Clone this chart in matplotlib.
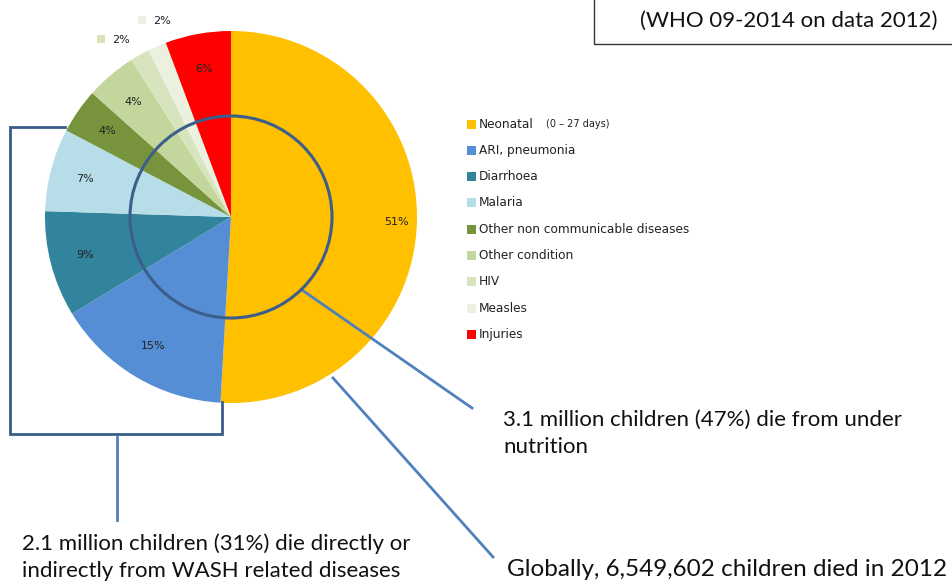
#!/usr/bin/env python3
"""Causes of under-5 child deaths (WHO 09-2014, data 2012) - donut-style pie."""
import numpy as np
import matplotlib.pyplot as plt
from matplotlib.patches import Circle, Rectangle

causes = ["Neonatal", "ARI, pneumonia", "Diarrhoea", "Malaria",
          "Other non communicable diseases", "Other condition", "HIV",
          "Measles", "Injuries"]
shares = [50.9, 15.4, 9.2, 7.2, 3.9, 4.4, 1.7, 1.6, 5.7]
colors = ["#FFC000", "#558ED5", "#31849B", "#B7DEE8", "#77933C",
          "#C3D69B", "#D7E4BD", "#EBF1DE", "#FF0000"]

TXT = "Lato"
fig = plt.figure(figsize=(9.53, 5.81), dpi=100)
ax = fig.add_axes([0, 0, 1, 1])

cx, cy, R = 231, 364, 186
small = 3.0

def pct(p):
    return f"{p:.0f}%" if p >= small else ""

wedges, _, autot = ax.pie(shares, colors=colors, startangle=90, counterclock=False,
                          center=(cx, cy), radius=R, autopct=pct, pctdistance=0.81,
                          wedgeprops=dict(linewidth=0), textprops=dict(fontsize=8, color="#222"))
# pie() resets the view, so set the pixel-like frame afterwards
ax.set_xlim(0, 953); ax.set_ylim(0, 581)
ax.set_aspect("equal"); ax.axis("off")

# the big neonatal label sits nearer the rim
w0 = wedges[0]
a0 = np.deg2rad((w0.theta1 + w0.theta2) / 2)
autot[0].set_position((cx + 0.89 * R * np.cos(a0), cy + 0.89 * R * np.sin(a0)))

# small slices: label outside with a little colour key, nudged apart
nudge = iter([2.5, -4.0])
for w, v, c in zip(wedges, shares, colors):
    if v >= small:
        continue
    a = np.deg2rad((w.theta1 + w.theta2) / 2 + next(nudge))
    r = R * 1.12
    x, y = cx + r * np.cos(a), cy + r * np.sin(a)
    ax.scatter([x - 20], [y + 1], marker="s", s=40, color=c, zorder=5, linewidths=0)
    ax.text(x, y, f"{v:.0f}%", fontsize=8, va="center", ha="center", color="#222")

# inner circle (under nutrition)
ax.add_patch(Circle((cx, cy), 101, fill=False, ec="#3B5E8C", lw=2.2, zorder=4))

# WASH bracket
bc = "#385D8A"
ax.plot([65, 10, 10, 222, 222], [454, 454, 147, 147, 179], color=bc, lw=2, solid_joinstyle="miter")
lc = "#4F81BD"
ax.plot([117, 117], [144, 61], color=lc, lw=2)
ax.plot([302, 472], [291, 173], color=lc, lw=2)
ax.plot([333, 493], [203, 24], color=lc, lw=2)

ax.text(22, 24, "2.1 million children (31%) die directly or\nindirectly from WASH related diseases",
        fontsize=16, family=TXT, va="center", ha="left", linespacing=1.45, color="#111")
ax.text(503, 148, "3.1 million children (47%) die from under\nnutrition",
        fontsize=16, family=TXT, va="center", ha="left", linespacing=1.45, color="#111")
ax.text(507, 11, "Globally, 6,549,602 children died in 2012",
        fontsize=17.5, family=TXT, va="center", ha="left", color="#111")

# title box (top right, cut by the frame)
ax.add_patch(Rectangle((594, 537), 400, 80, fill=False, ec="#333", lw=1))
ax.text(789, 560, "(WHO 09-2014 on data 2012)", fontsize=16, family=TXT,
        ha="center", va="center", color="#111")

# legend
ly0, dy = 457, 26.3
for i, (lab, c) in enumerate(zip(causes, colors)):
    y = ly0 - i * dy
    ax.add_patch(Rectangle((467, y - 4.5), 9, 9, color=c, lw=0))
    ax.text(479, y, lab, fontsize=8.7, va="center", ha="left", color="#222")
ax.text(546, ly0 + 0.5, "(0 \u2013 27 days)", fontsize=7, va="center", ha="left", color="#222")

fig.savefig("out.png", dpi=100)
